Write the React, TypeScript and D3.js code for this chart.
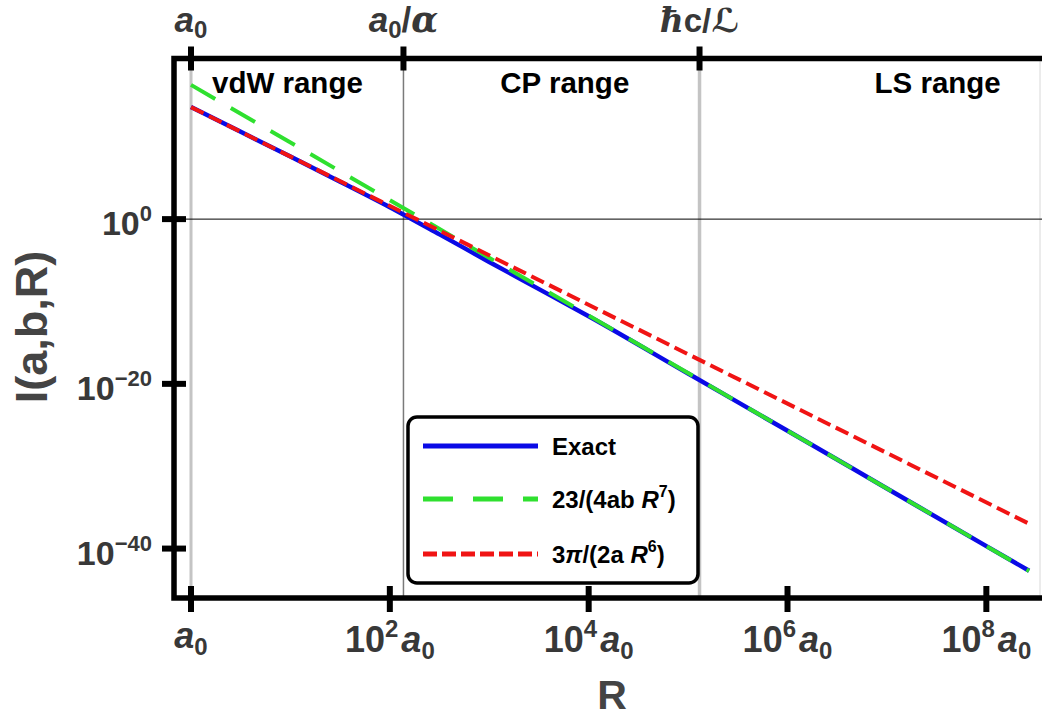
import React from "react";
import * as d3 from "d3";

// ---- data (log10 of R in units of a0, log10 of I) ----
const exactLogR = [0, 0.5, 1, 1.5, 2, 2.5, 3, 3.5, 4, 5, 6, 7, 8, 8.43];
const exactLogI = [13.6, 10.6, 7.6, 4.55, 1.45, -1.85, -5.2, -8.5, -11.8, -18.75, -25.7, -32.7, -39.7, -42.7];
const vdwLogR = [0, 8.43];
const vdwLogI = [16.3, -42.71]; // 23/(4ab R^7)
const cpLogR = [0, 8.43];
const cpLogI = [13.6, -36.98]; // 3pi/(2a R^6)

const xTickExps = [0, 2, 4, 6, 8];
const yTickExps = [0, -20, -40];
const topMarks = [
  { logR: 0, label: "a0" },
  { logR: 2.137, label: "a0/alpha" },
  { logR: 5.115, label: "hbar" },
];
const rangeLabels = [
  { text: "vdW range", logR: 0.97 },
  { text: "CP range", logR: 3.76 },
  { text: "LS range", logR: 7.51 },
];

const W = 1042;
const H = 717;
const FRAME = { left: 174, right: 1046, top: 58.5, bottom: 598 };

const x = d3.scaleLog().domain([Math.pow(10, -0.171), Math.pow(10, 8.6)]).range([FRAME.left, FRAME.right]);
const y = d3.scaleLog().domain([1e-46, Math.pow(10, 19.5)]).range([FRAME.bottom, FRAME.top]);

const toPts = (lr: number[], li: number[]) => lr.map((d, i) => [Math.pow(10, d), Math.pow(10, li[i])] as [number, number]);
const line = d3
  .line<[number, number]>()
  .x((d) => x(d[0]))
  .y((d) => y(d[1]))
  .curve(d3.curveMonotoneX);

const FONT = "'Liberation Sans', Arial, Helvetica, sans-serif";
const BLUE = "#0a0ae6";
const GREEN = "#2fe02f";
const RED = "#f01414";
const LABEL = "#383838";

export default function App() {
  const xa = x(1);
  const xalpha = x(Math.pow(10, 2.137));
  const xhc = x(Math.pow(10, 5.115));
  return (
    <svg width={W} height={H} style={{ position: "absolute", left: 0, top: 0, background: "#fff" }} fontFamily={FONT}>
      <defs>
        <clipPath id="plot">
          <rect x={FRAME.left} y={FRAME.top} width={FRAME.right - FRAME.left} height={FRAME.bottom - FRAME.top} />
        </clipPath>
      </defs>
      <rect x={0} y={0} width={W} height={H} fill="#fff" />
      {/* reference lines */}
      <line x1={xa} x2={xa} y1={FRAME.top} y2={FRAME.bottom} stroke="#c4c4c4" strokeWidth={3} />
      <line x1={xalpha} x2={xalpha} y1={FRAME.top} y2={FRAME.bottom} stroke="#7a7a7a" strokeWidth={1.5} />
      <line x1={xhc} x2={xhc} y1={FRAME.top} y2={FRAME.bottom} stroke="#c4c4c4" strokeWidth={3.5} />
      <line x1={1040} x2={1040} y1={FRAME.top} y2={FRAME.bottom} stroke="#d8d8d8" strokeWidth={1} />
      <line x1={FRAME.left} x2={FRAME.right} y1={y(1)} y2={y(1)} stroke="#000" strokeWidth={1} />

      {/* curves */}
      <g clipPath="url(#plot)" fill="none">
        <path d={line(toPts(exactLogR, exactLogI)) || ""} stroke={BLUE} strokeWidth={4.5} />
        <path d={line(toPts(vdwLogR, vdwLogI)) || ""} stroke={GREEN} strokeWidth={4} strokeDasharray="28,18" />
        <path d={line(toPts(cpLogR, cpLogI)) || ""} stroke={RED} strokeWidth={4} strokeDasharray="14,6" />
      </g>

      {/* range labels */}
      {rangeLabels.map((r) => (
        <text key={r.text} x={x(Math.pow(10, r.logR))} y={93} textAnchor="middle" fontSize={29.5} fontWeight="bold" fill="#000">
          {r.text}
        </text>
      ))}

      {/* frame */}
      <rect x={FRAME.left} y={FRAME.top} width={FRAME.right - FRAME.left} height={FRAME.bottom - FRAME.top} fill="none" stroke="#000" strokeWidth={5.5} />

      {/* bottom ticks */}
      {xTickExps.map((e) => {
        const px = x(Math.pow(10, e));
        return (
          <g key={"xb" + e}>
            <line x1={px} x2={px} y1={FRAME.bottom - 12} y2={FRAME.bottom + 14} stroke="#000" strokeWidth={6} />
            {e === 0 ? (
              <text x={px} y={648} textAnchor="middle" fontWeight="bold" fill={LABEL} fontSize={36}>
                <tspan fontStyle="italic">a</tspan>
                <tspan fontSize={24} dy={7}>0</tspan>
              </text>
            ) : (
              <text x={px} y={652} textAnchor="middle" fontWeight="bold" fill={LABEL} fontSize={36}>
                <tspan>10</tspan>
                <tspan fontSize={24} dy={-15}>{e}</tspan>
                <tspan fontStyle="italic" dy={15} dx={3}>a</tspan>
                <tspan fontSize={24} dy={7}>0</tspan>
              </text>
            )}
          </g>
        );
      })}

      {/* top ticks */}
      {topMarks.map((m) => {
        const px = x(Math.pow(10, m.logR));
        return (
          <g key={"xt" + m.label}>
            <line x1={px} x2={px} y1={FRAME.top - 12} y2={FRAME.top + 12} stroke="#000" strokeWidth={6} />
            {m.label === "a0" && (
              <text x={px} y={32} textAnchor="middle" fontWeight="bold" fill={LABEL} fontSize={35}>
                <tspan fontStyle="italic">a</tspan>
                <tspan fontSize={24} dy={6}>0</tspan>
              </text>
            )}
            {m.label === "a0/alpha" && (
              <text x={px} y={32} textAnchor="middle" fontWeight="bold" fill={LABEL} fontSize={35}>
                <tspan fontStyle="italic">a</tspan>
                <tspan fontSize={24} dy={6}>0</tspan>
                <tspan dy={-6}>/</tspan>
                <tspan fontStyle="italic" fontFamily="'DejaVu Serif', serif">α</tspan>
              </text>
            )}
            {m.label === "hbar" && (
              <text x={px} y={32} textAnchor="middle" fontWeight="bold" fill={LABEL} fontSize={33}>
                <tspan fontStyle="italic" fontFamily="'DejaVu Serif', serif">ħ</tspan>
                <tspan>c/</tspan>
                <tspan fontFamily="'DejaVu Serif', 'DejaVu Sans', serif" fontStyle="italic">ℒ</tspan>
              </text>
            )}
          </g>
        );
      })}

      {/* left ticks */}
      {yTickExps.map((e) => {
        const py = y(Math.pow(10, e));
        return (
          <g key={"y" + e}>
            <line x1={FRAME.left - 12} x2={FRAME.left + 12} y1={py} y2={py} stroke="#000" strokeWidth={6} />
            <text x={152} y={py + 16} textAnchor="end" fontWeight="bold" fill={LABEL} fontSize={34}>
              <tspan>10</tspan>
              <tspan fontSize={22} dy={-14}>{e === 0 ? "0" : "\u2212" + Math.abs(e)}</tspan>
            </text>
          </g>
        );
      })}

      {/* axis titles */}
      <text x={612} y={709} textAnchor="middle" fontWeight="bold" fill="#444" fontSize={41}>R</text>
      <text transform="translate(47,327) rotate(-90)" textAnchor="middle" fontWeight="bold" fill="#444" fontSize={45}>
        I(a,b,R)
      </text>

      {/* legend */}
      <g>
        <rect x={408} y={417} width={290} height={166} rx={9} fill="#fff" stroke="#000" strokeWidth={3.5} />
        <line x1={423} x2={538} y1={446} y2={446} stroke={BLUE} strokeWidth={5} />
        <line x1={423} x2={538} y1={499} y2={499} stroke={GREEN} strokeWidth={5} strokeDasharray="30,20" />
        <line x1={423} x2={538} y1={554} y2={554} stroke={RED} strokeWidth={5} strokeDasharray="14,5" />
        <text x={552} y={455} fontWeight="bold" fontSize={24} fill="#000">Exact</text>
        <text x={552} y={508} fontWeight="bold" fontSize={24} fill="#000">
          <tspan>23/(4ab </tspan>
          <tspan fontStyle="italic">R</tspan>
          <tspan fontSize={16} dy={-11}>7</tspan>
          <tspan dy={11}>)</tspan>
        </text>
        <text x={552} y={563} fontWeight="bold" fontSize={24} fill="#000">
          <tspan>3</tspan>
          <tspan fontStyle="italic">π</tspan>
          <tspan>/(2a </tspan>
          <tspan fontStyle="italic">R</tspan>
          <tspan fontSize={16} dy={-11}>6</tspan>
          <tspan dy={11}>)</tspan>
        </text>
      </g>
    </svg>
  );
}
